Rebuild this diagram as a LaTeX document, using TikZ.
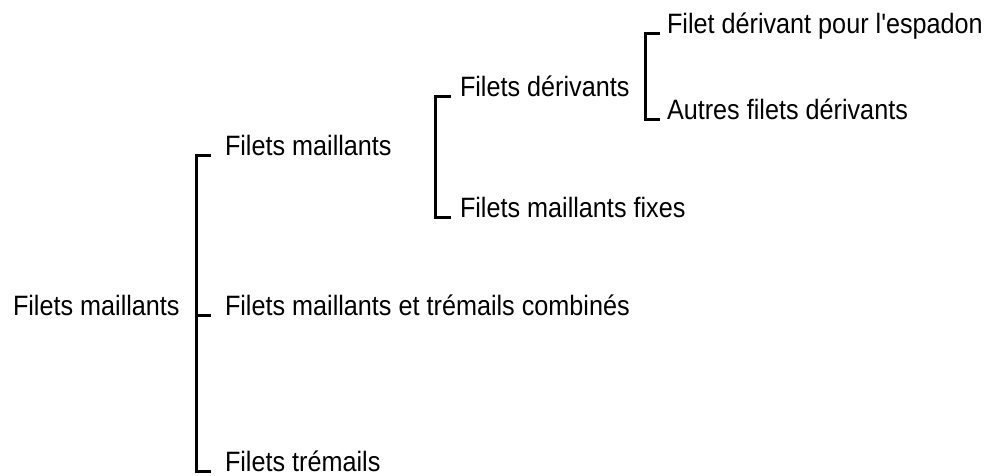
\documentclass[tikz,border=0pt]{standalone}
\usepackage{fontspec}
\newfontfamily\lab{Liberation Sans}[FakeStretch=0.9,Ligatures=TeXOff]
\begin{document}
\begin{tikzpicture}[x=1pt,y=-1pt,
  lbl/.style={anchor=base west,inner sep=0pt,outer sep=0pt,font=\lab\fontsize{28}{30}\selectfont},
  br/.style={draw=black,line width=3pt,line join=miter,line cap=butt}]
\useasboundingbox (0,0) rectangle (990,476);
% nodes
\node[lbl] (root) at (13,315) {Filets maillants};
\node[lbl] (c1) at (225,155) {Filets maillants};
\node[lbl] (c2) at (225,315) {Filets maillants et trémails combinés};
\node[lbl] (c3) at (225,471) {Filets trémails};
\node[lbl] (d1) at (460,97) {Filets dérivants};
\node[lbl] (d2) at (460,217) {Filets maillants fixes};
\node[lbl] (e1) at (667,34) {Filet dérivant pour l'espadon};
\node[lbl] (e2) at (667,120) {Autres filets dérivants};
% bracket x positions
\coordinate (v1) at (196,0); \coordinate (t1) at (211,0);
\coordinate (v2) at (435,0); \coordinate (t2) at (451,0);
\coordinate (v3) at (645,0); \coordinate (t3) at (660,0);
% bracket 1
\draw[br] (c1.base west -| t1) -- (c1.base west -| v1) -- (c3.base west -| v1) -- (c3.base west -| t1);
\draw[br] (c2.base west -| v1) -- (c2.base west -| t1);
% bracket 2
\draw[br] (d1.base west -| t2) -- (d1.base west -| v2) -- (d2.base west -| v2) -- (d2.base west -| t2);
% bracket 3
\draw[br] (e1.base west -| t3) -- (e1.base west -| v3) -- (e2.base west -| v3) -- (e2.base west -| t3);
\end{tikzpicture}
\end{document}
